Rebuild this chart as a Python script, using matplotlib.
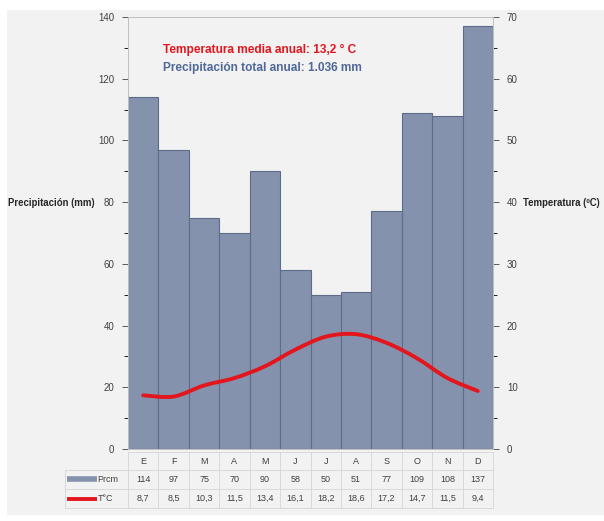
import numpy as np
import matplotlib
matplotlib.use("Agg")
import matplotlib.pyplot as plt
from matplotlib.path import Path
from matplotlib.patches import PathPatch, Rectangle
from matplotlib.lines import Line2D
import matplotlib.transforms as mtransforms

# climograma data
meses = ["E", "F", "M", "A", "M", "J", "J", "A", "S", "O", "N", "D"]
precip = [114, 97, 75, 70, 90, 58, 50, 51, 77, 109, 108, 137]
temp = [8.7, 8.5, 10.3, 11.5, 13.4, 16.1, 18.2, 18.6, 17.2, 14.7, 11.5, 9.4]
temp_txt = ["8,7", "8,5", "10,3", "11,5", "13,4", "16,1", "18,2", "18,6", "17,2", "14,7", "11,5", "9,4"]

bar_color = "#8592ad"
bar_edge = "#5d6c88"
red = "#e3161e"
grid_col = "#d6d6d6"
txt_col = "#404040"

plt.rcParams["font.family"] = ["Liberation Sans", "DejaVu Sans"]

fig = plt.figure(figsize=(6.04, 5.21), dpi=100)
fig.patch.set_facecolor("white")
fig.patches.append(Rectangle((7 / 604, 6 / 521), 597 / 604, 505 / 521,
                             transform=fig.transFigure, facecolor="#f2f2f2",
                             edgecolor="none", zorder=-10))

ax = fig.add_axes([128 / 604, 1 - 449 / 521, 365 / 604, 432 / 521])
ax.set_facecolor("none")
x = np.arange(len(meses))
ax.bar(x, precip, width=1.0, color=bar_color, edgecolor=bar_edge, linewidth=0.8)
ax.set_xlim(-0.5, 11.5)
ax.set_ylim(0, 140)
ax.set_yticks(np.arange(0, 141, 20))
ax.set_yticks(np.arange(10, 140, 20), minor=True)
ax.set_xticks([])
ax.tick_params(axis="y", labelsize=7, colors=txt_col, length=4, width=0.6, pad=6)
ax.tick_params(axis="y", which="minor", length=3, width=0.6)
for s in ["left", "right", "top", "bottom"]:
    ax.spines[s].set_color("#bfbfbf")
    ax.spines[s].set_linewidth(0.6)

ax2 = ax.twinx()
ax2.set_ylim(0, 70)
ax2.set_yticks(np.arange(0, 71, 10))
ax2.set_yticks(np.arange(5, 70, 10), minor=True)
ax2.tick_params(axis="y", labelsize=7, colors=txt_col, length=4, width=0.6, pad=6)
ax2.tick_params(axis="y", which="minor", length=3, width=0.6)
for s in ["left", "right", "top", "bottom"]:
    ax2.spines[s].set_color("#bfbfbf")
    ax2.spines[s].set_linewidth(0.6)

# smoothed temperature line (bezier through the monthly points)
pts = np.column_stack([x, temp]).astype(float)
ext = np.vstack([pts[0], pts, pts[-1]])
verts = [tuple(pts[0])]
codes = [Path.MOVETO]
for i in range(len(pts) - 1):
    p0, p1, p2, p3 = ext[i], ext[i + 1], ext[i + 2], ext[i + 3]
    c1 = p1 + (p2 - p0) / 6
    c2 = p2 - (p3 - p1) / 6
    verts += [tuple(c1), tuple(c2), tuple(p2)]
    codes += [Path.CURVE4] * 3
ax2.add_patch(PathPatch(Path(verts, codes), facecolor="none", edgecolor=red,
                        linewidth=2.8, capstyle="round"))

# titles inside the plot
ax.text(0.096, 0.924, "Temperatura media anual: 13,2 ° C", transform=ax.transAxes,
        color=red, fontsize=8.6, fontweight="bold", va="center")
ax.text(0.096, 0.882, "Precipitación total anual: 1.036 mm", transform=ax.transAxes,
        color="#4f6898", fontsize=8.6, fontweight="bold", va="center")

fig.text(8 / 604, 1 - 203 / 521, "Precipitación (mm)", fontsize=6.9,
         fontweight="bold", color="#262626", va="center")
fig.text(523 / 604, 1 - 203 / 521, "Temperatura (ºC)", fontsize=6.9,
         fontweight="bold", color="#262626", va="center")

# data table under the chart
trans = mtransforms.blended_transform_factory(ax.transData, ax.transAxes)
rows_y = [-0.007, -0.0486, -0.0926, -0.1366]
x_left = -2.57
for yy in rows_y[1:]:
    ax.add_line(Line2D([x_left, 11.5], [yy, yy], transform=trans, color=grid_col,
                       linewidth=0.6, clip_on=False))
ax.add_line(Line2D([-0.5, 11.5], [rows_y[0], rows_y[0]], transform=trans,
                   color=grid_col, linewidth=0.6, clip_on=False))
for xb in np.arange(-0.5, 12, 1):
    ax.add_line(Line2D([xb, xb], [rows_y[0], rows_y[-1]], transform=trans,
                       color=grid_col, linewidth=0.6, clip_on=False))
ax.add_line(Line2D([x_left, x_left], [rows_y[1], rows_y[-1]], transform=trans,
                   color=grid_col, linewidth=0.6, clip_on=False))

row_mid = [(rows_y[i] + rows_y[i + 1]) / 2 for i in range(3)]
for i in range(len(meses)):
    ax.text(x[i], row_mid[0], meses[i], transform=trans, ha="center", va="center",
            fontsize=6.5, color=txt_col, clip_on=False)
    ax.text(x[i], row_mid[1], str(precip[i]), transform=trans, ha="center",
            va="center", fontsize=6.5, color=txt_col, clip_on=False)
    ax.text(x[i], row_mid[2], temp_txt[i], transform=trans, ha="center",
            va="center", fontsize=6.5, color=txt_col, clip_on=False)

ax.add_line(Line2D([-2.5, -1.52], [row_mid[1], row_mid[1]], transform=trans,
                   color=bar_color, linewidth=4, solid_capstyle="butt", clip_on=False))
ax.add_line(Line2D([-2.5, -1.52], [row_mid[2], row_mid[2]], transform=trans,
                   color=red, linewidth=2.8, solid_capstyle="butt", clip_on=False))
ax.text(-1.5, row_mid[1], "Prcm", transform=trans, ha="left", va="center",
        fontsize=6.5, color=txt_col, clip_on=False)
ax.text(-1.5, row_mid[2], "T°C", transform=trans, ha="left", va="center",
        fontsize=6.5, color=txt_col, clip_on=False)

fig.savefig("out.png", dpi=100)
